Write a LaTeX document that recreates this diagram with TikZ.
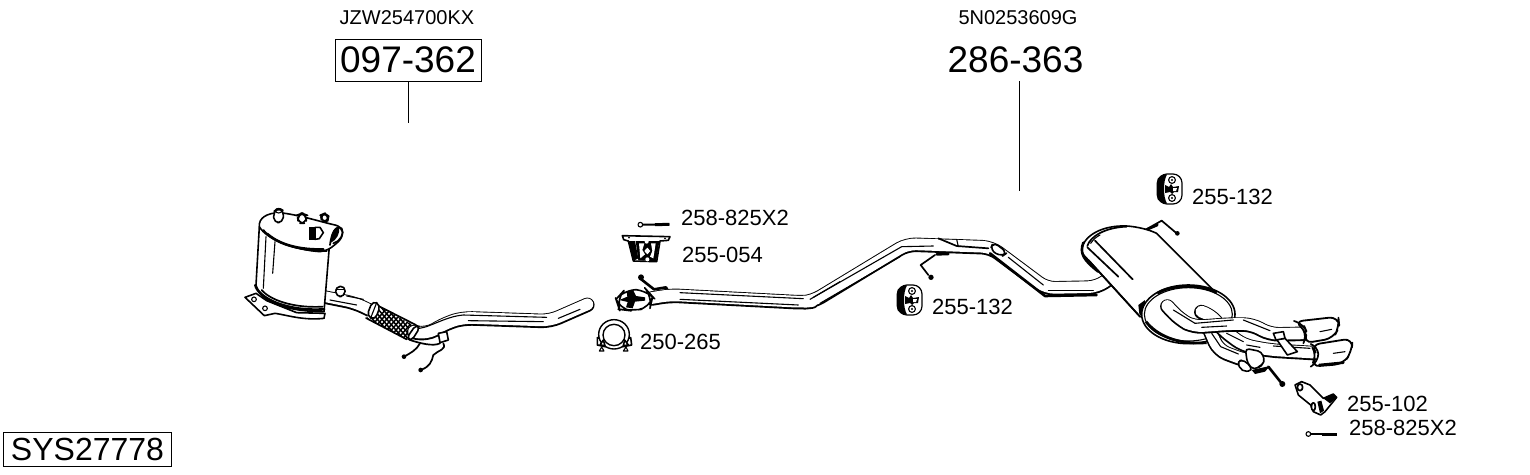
\documentclass[tikz,border=0pt]{standalone}
\usepackage{fontspec}
\setmainfont{Liberation Sans}
\newcommand\tubeline[2][14.5]{%
  \draw[black,yshift=-.5pt,line width=#1pt,line cap=round,line join=round,rounded corners=9pt] #2;
  \pgfmathsetmacro\tubein{#1-2.8}%
  \draw[white,line width=\tubein pt,line cap=round,line join=round,rounded corners=9pt] #2;}
\tikzset{
  crop/.style 2 args={shift={(#1,#2)},x=.33333pt,y=-.33333pt},
  ol/.style={draw=black,fill=white,line width=1.6pt,line join=round},
  thin ink/.style={draw=black,line width=1.1pt,line cap=round,line join=round},
  ink/.style={draw=black,line width=1.7pt,line cap=round,line join=round},
  heavy/.style={draw=black,line width=2.6pt,line cap=round,line join=round},
  plabel/.style={inner sep=0pt,anchor=west,font=\fontsize{22}{22}\selectfont},
  oem/.style={inner sep=0pt,font=\fontsize{20}{20}\selectfont},
  big/.style={inner sep=0pt,font=\fontsize{37}{37}\selectfont},
  pics/hanger/.style={code={
    \draw[ol,line width=1.2pt,rounded corners=9pt] (-12,-15) rectangle (12,15);
    \fill[black] (-3,-14.5) .. controls (-14,-14.5) and (-13.5,-8) .. (-13.5,0) .. controls (-13.5,8) and (-14,14.5) .. (-3,14.5) .. controls (-7,8) and (-7,-8) .. (-3,-14.5) -- cycle;
    \draw[thin ink,fill=white] (2,-9) circle (3.4) (2,9) circle (3.4);
    \fill (2,-9) circle (1.2) (2,9) circle (1.2);
    \fill (-5,-4) -- (-1,-2) -- (1,-5) -- (3,-2) -- (9,-3) -- (8,3) -- (4,3) -- (2,5) -- (0,3) -- (-5,4) -- cycle;
    \fill[white] (3,-1) -- (7,-1) -- (6,2) -- (3,2) -- cycle;
  }}
}
\begin{document}
\begin{tikzpicture}[x=1pt,y=-1pt]
\useasboundingbox (0,0) rectangle (1530,474);
\fill[white] (0,0) rectangle (1530,474);

% ---- labels
\node[oem] (oemA) at (407,18) {JZW254700KX};
\node[oem] (oemB) at (1018,18) {5N0253609G};
\node[big,draw=black,line width=.9pt,minimum width=146pt,minimum height=42pt] (partA) at (408,60) {097-362};
\node[big] (partB) at (1015.5,60) {286-363};
\node[draw=black,line width=.9pt,inner sep=0pt,minimum width=168pt,minimum height=34pt,font=\fontsize{32}{32}\selectfont] (sys) at (87.5,449) {SYS27778};
\node[plabel] (l1) at (681,218) {258-825X2};
\node[plabel] (l2) at (682,255) {255-054};
\node[plabel] (l3) at (640,342) {250-265};
\node[plabel] (l4) at (932,307) {255-132};
\node[plabel] (l5) at (1192,197) {255-132};
\node[plabel] (l6) at (1347,404) {255-102};
\node[plabel] (l7) at (1349,428) {258-825X2};
\coordinate (endA) at (408,123);
\coordinate (endB) at (1019,191);
\coordinate (startB) at (1019,81);
\draw[line width=.9pt] (partA.south) -- (endA);
\draw[line width=.9pt] (startB) -- (endB);

% ---- DPF (zoom coordinates)
\begin{scope}[crop={230}{190}]
  % outlet pipe behind can and flex
  \tubeline[13.5]{(275,318) -- (375,338) -- (425,362)}
  \draw[thin ink] (300,330) -- (380,345) (350,318) -- (400,328);
  % bracket
  \draw[ol] (45,322) -- (78,310) -- (110,332) -- (200,368) -- (285,370) -- (282,385) .. controls (220,392) and (170,375) .. (135,370) -- (103,377) -- cycle;
  \draw[thin ink] (72,328) circle (7) (105,355) circle (7);
  % can
  \draw[ol] (88,110) -- (78,285) .. controls (85,325) and (150,365) .. (282,365) -- (298,170) -- cycle;
  \draw[heavy] (76,285) .. controls (85,325) and (170,365) .. (282,358);
  \draw[ink] (95,300) .. controls (120,330) and (190,355) .. (278,350);
  \draw[thin ink] (108,140) -- (100,295) (135,155) -- (128,250);
  % stub
  \draw[ol,rounded corners=5pt] (316,290) -- (346,288) -- (344,320) -- (318,320) -- cycle;
  \draw[thin ink] (318,298) -- (344,298);
  % flex
  \begin{scope}
    \clip (428,340) -- (410,385) -- (530,448) -- (558,410) -- cycle;
    \fill[white] (400,330) rectangle (570,450);
    \foreach \k in {0,...,22} {
      \draw[line width=1.5pt] (380+\k*14,460) -- (500+\k*14,320);
      \draw[line width=1.5pt] (300+\k*14,320) -- (420+\k*14,460);
    }
  \end{scope}
  \draw[ink] (430,340) -- (558,405) (408,384) -- (530,448);
  \draw[ol,rounded corners=5pt] (428,332) -- (452,345) -- (435,390) -- (410,378) -- cycle;
  \draw[thin ink] (440,338) -- (422,384);
  % main tube
  \tubeline{(552,425) -- (590,432) -- (650,398) -- (700,383) -- (960,392) -- (1072,343)}
  \draw[thin ink] (555,415) .. controls (590,420) and (640,380) .. (700,375) -- (950,382);
  \draw[thin ink] (715,392) -- (940,395) (985,385) -- (1050,358);
  \draw[ol,rounded corners=4pt] (530,445) -- (557,405) -- (570,412) -- (545,452) -- cycle;
  % can top
  \draw[ol] (88,110) .. controls (85,85) and (110,68) .. (150,68) .. controls (210,75) and (270,95) .. (315,105) .. controls (340,110) and (345,135) .. (325,155) .. controls (310,168) and (300,180) .. (270,185) .. controls (200,180) and (110,150) .. (88,110) -- cycle;
  \draw[ink] (100,120) .. controls (135,160) and (210,185) .. (290,183);
  \draw[heavy] (112,132) .. controls (150,165) and (210,180) .. (280,178);
  % inlet opening
  \draw[ink] (300,165) .. controls (305,120) and (322,105) .. (335,115) .. controls (345,130) and (330,155) .. (310,160);
  \fill (303,150) .. controls (303,125) and (315,110) .. (328,112) .. controls (330,130) and (320,150) .. (303,158) -- cycle;
  % top stubs
  \draw[ol,rounded corners=5pt] (130,65) -- (132,98) -- (158,98) -- (162,62) -- (145,55) -- cycle;
  \draw[thin ink] (146,62) ellipse (10 and 7);
  \draw[ol,rounded corners=6pt] (202,75) -- (205,100) -- (228,100) -- (230,75) -- (216,70) -- cycle;
  \draw[ol,rounded corners=5pt] (272,75) -- (275,95) -- (293,95) -- (296,78) -- (284,70) -- cycle;
  % d shaped flange
  \fill (238,112) -- (255,112) -- (255,150) -- (238,150) -- cycle;
  \draw[ol] (255,112) -- (270,112) -- (280,128) -- (268,146) -- (255,148) -- cycle;
  % wires
  \draw[ink] (540,450) .. controls (570,460) and (610,470) .. (630,460);
  \draw[ink] (522,500) .. controls (540,490) and (560,480) .. (570,460);
  \fill (522,500) circle (7);
  \draw[ink] (572,540) .. controls (600,530) and (605,515) .. (610,495) .. controls (625,480) and (650,480) .. (640,460);
  \fill (572,540) circle (7);
  \draw[ol] (625,430) -- (650,425) -- (655,450) -- (630,458) -- cycle;
\end{scope}

% ---- bolt / bracket / clamp
\begin{scope}[crop={580}{200}]
  \draw[line width=2pt] (185,74) -- (268,73);
  \draw[line width=3pt] (225,74) -- (268,73);
  \draw[thin ink,fill=white] (181,74) circle (7);
\end{scope}
\begin{scope}[crop={615}{225}]
  \draw[ol] (22,32) -- (165,35) -- (160,46) -- (135,48) -- (125,110) -- (55,108) -- (40,48) -- (26,44) -- cycle;
  \fill (40,48) -- (60,48) -- (70,100) -- (56,107) -- cycle;
  \fill (62,48) -- (133,48) -- (124,108) -- (70,106) -- cycle;
  \fill[white] (72,55) -- (88,55) -- (82,75) -- (90,88) -- (76,100) -- cycle;
  \fill[white] (108,55) -- (122,55) -- (115,100) -- (105,95) -- (112,78) -- cycle;
  \fill[white] (95,50) circle (6) (97,103) circle (6);
  \fill[white] (97,68) -- (106,78) -- (97,88) -- (88,78) -- cycle;
  \fill (42,38) circle (3) (150,40) circle (3);
\end{scope}
\begin{scope}[crop={590}{315}]
  \draw[ol] (22,90) -- (22,68) -- (38,72) -- (108,72) -- (122,68) -- (125,90) -- (100,95) -- (45,95) -- cycle;
  \draw[line width=1.4pt,fill=white] (72,58) ellipse (46 and 44);
  \draw[line width=1.4pt,fill=white] (72,60) ellipse (33 and 32);
  \draw[ol] (40,75) -- (30,90) -- (45,92) -- cycle (104,75) -- (115,90) -- (100,92) -- cycle;
  \draw[thin ink,fill=white] (35,96) -- (28,108) -- (42,108) -- cycle (108,96) -- (100,108) -- (114,108) -- cycle;
\end{scope}

% ---- intermediate pipe
\begin{scope}[crop={580}{200}]
  \draw[heavy] (180,235) -- (222,268) -- (258,262) -- (272,290);
  \fill (183,232) circle (9);
\end{scope}
\tubeline{(652,298) -- (670,295) -- (803,302) -- (813,301) -- (907,244) -- (991,247) -- (1046,288) -- (1097,287) -- (1117,273)}
\begin{scope}[crop={580}{200}]
  \draw[ol,rounded corners=12pt] (108,298) -- (135,268) -- (200,270) -- (218,290) -- (210,325) -- (150,332) -- (118,328) -- cycle;
  \fill (140,275) -- (160,272) -- (168,288) -- (195,292) -- (195,302) -- (165,305) -- (158,325) -- (138,322) -- (143,306) -- (118,300) -- (142,290) -- cycle;
  \draw[thin ink] (300,278) -- (670,296) (300,298) -- (655,315);
  \draw[thin ink] (700,292) -- (780,245);
\end{scope}
\begin{scope}[crop={800}{220}]
  \draw[thin ink] (30,238) -- (305,80) -- (400,78);
  \draw[thin ink] (60,250) -- (300,110);
  \draw[ink] (415,55) -- (470,78) -- (565,85);
  \draw[thin ink] (470,58) -- (475,80);
  \draw[ol,rounded corners=6pt] (580,66) -- (622,98) -- (605,110) -- (570,90) -- cycle;
  \draw[thin ink] (625,112) -- (730,195);
  \draw[thin ink] (745,212) -- (880,212);
  \draw[heavy] (570,100) -- (735,228) -- (890,225);
  % hanger
  \draw[heavy] (410,103) -- (445,102);
  \draw[ink] (405,105) -- (362,135) -- (385,165);
  \fill (393,172) circle (8);
\end{scope}

% ---- rubber hangers
\pic at (910,300) {hanger};
\pic at (1170,189) {hanger};

% ---- rear silencer
\begin{scope}[crop={1070}{170}]
  \draw[ink] (225,180) -- (275,152) -- (320,190);
  \draw[heavy] (232,178) -- (262,165);
  \fill (322,190) circle (7);
  \draw[ol] (35,240) .. controls (40,195) and (100,165) .. (170,168) .. controls (200,170) and (235,178) .. (260,190) -- (490,420) -- (210,440) -- (55,270) .. controls (45,260) and (35,250) .. (35,240) -- cycle;
  \draw[heavy] (40,218) .. controls (28,250) and (40,270) .. (85,305);
  \draw[ink] (52,228) .. controls (60,200) and (105,172) .. (170,170);
  \draw[thin ink] (62,220) .. controls (70,208) and (80,200) .. (90,195);
  \draw[ink] (52,232) -- (145,320);
  \draw[ink] (75,212) -- (188,328);
  \draw[ink] (55,270) -- (210,440);
  \fill (205,405) -- (225,390) -- (222,445) -- (208,432) -- cycle;
  % end face
  \draw[line width=1.6pt,fill=white] (355,433) ellipse (140 and 88);
  \draw[line width=1.1pt] (355,433) ellipse (132 and 80);
  \draw[line width=2.8pt] (228,455) .. controls (260,495) and (320,525) .. (410,518);
  \draw[line width=2.8pt] (262,370) .. controls (300,345) and (390,340) .. (440,368);
  % tubes behind
  \tubeline{(415,470) -- (445,540) -- (525,570) -- (560,572)}
  \draw[thin ink] (425,490) -- (452,530) -- (505,552);
  \tubeline{(395,425) -- (420,432) -- (460,480) -- (520,525) -- (600,540) -- (735,548)}
  \draw[thin ink] (470,490) -- (520,515) (530,525) -- (570,532) (610,528) -- (720,535);
  % upper tube
  \tubeline{(292,408) -- (330,448) -- (372,470) -- (480,462) -- (545,462) -- (600,492) -- (700,490)}
  \draw[thin ink] (310,420) -- (375,460) -- (490,450);
  \draw[thin ink] (520,450) -- (600,482) (395,472) -- (470,468);
  % tails
  \draw[ol,line width=1.8pt,rounded corners=9pt] (722,525) -- (848,505) -- (845,545) -- (820,582) -- (722,590) -- (742,555) -- cycle;
  \draw[ink,rounded corners=8pt] (722,522) -- (745,530) -- (745,575) -- (722,590);
  \draw[heavy] (748,585) -- (820,578);
  \draw[thin ink] (790,550) -- (825,545);
  \draw[ol,line width=1.8pt,rounded corners=9pt] (672,455) -- (805,440) -- (808,470) -- (790,505) -- (700,520) -- (712,485) -- cycle;
  \draw[ink,rounded corners=8pt] (672,453) -- (700,462) -- (712,490) -- (700,520);
  \draw[thin ink] (750,485) -- (785,478);
  % clips
  \draw[ol] (620,508) -- (645,505) -- (682,545) -- (652,555) -- cycle;
  \draw[ol] (610,490) -- (640,485) -- (645,505) -- (618,510) -- cycle;
  \draw[ol,rounded corners=5pt] (500,572) -- (525,570) -- (550,602) -- (515,605) -- cycle;
  \draw[ol,rounded corners=4pt] (526,535) -- (575,545) -- (585,577) -- (552,600) -- (532,580) -- cycle;
  \fill (545,600) -- (600,588) -- (585,605) -- (555,612) -- cycle;
  \draw[heavy] (595,590) -- (635,640);
  \fill (637,642) circle (9);
\end{scope}

% ---- bracket 255-102 and bolt
\begin{scope}[crop={1280}{370}]
  \draw[ol] (45,45) -- (65,35) -- (90,45) -- (130,85) -- (160,72) -- (170,82) -- (135,125) -- (122,135) -- (100,125) -- (92,105) -- (55,75) -- cycle;
  \fill (130,85) -- (160,72) -- (170,82) -- (150,100) -- cycle;
  \fill (112,95) -- (120,130) -- (132,122) -- (124,92) -- cycle;
  \draw[ink,fill=white] (60,52) ellipse (8 and 10) (100,110) ellipse (6 and 12);
  \draw[line width=2pt] (90,192) -- (172,192);
  \draw[line width=3pt] (125,192) -- (172,192);
  \draw[thin ink,fill=white] (85,192) circle (7);
\end{scope}
\end{tikzpicture}
\end{document}
